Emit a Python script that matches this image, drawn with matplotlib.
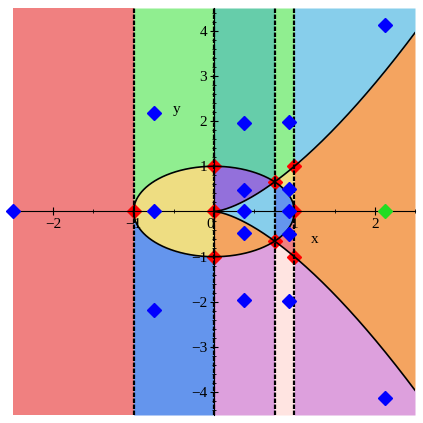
import matplotlib
matplotlib.use("Agg")
import matplotlib.pyplot as plt
import numpy as np
from matplotlib.ticker import MultipleLocator

plt.rcParams['font.family'] = ['Liberation Serif', 'DejaVu Serif']

# cell walls in x (the curve x^2+y^2=1 and y^2=x^3 meet at x~0.7549)
x_walls = [-2.5, -1.0, 0.0, 0.7549, 1.0, 2.5]

# colours of the cells in each strip, bottom to top
strip_colors = [
    ['#F08080'],
    ['#6495ED', '#EEDD82', '#90EE90'],
    ['#DDA0DD', '#F4A460', '#87CEEB', '#9370DB', '#66CDAA'],
    ['#FFE4E1', '#F08080', '#6495ED', '#EEDD82', '#90EE90'],
    ['#DDA0DD', '#F4A460', '#87CEEB'],
]
# which curves split each strip, bottom to top
strip_bounds = [
    [],
    ['-circ', '+circ'],
    ['-circ', '-cusp', '+cusp', '+circ'],
    ['-cusp', '-circ', '+circ', '+cusp'],
    ['-cusp', '+cusp'],
]

# section points (red)
red_x = [-1.0, 0.0, 0.0, 0.0, 0.7549, 0.7549, 1.0, 1.0, 1.0]
red_y = [0.0, 1.0, 0.0, -1.0, 0.656, -0.656, 1.0, 0.0, -1.0]

# sample points (blue)
blue_x = [-2.5, -0.75, -0.75, -0.75,
          0.377, 0.377, 0.377, 0.377, 0.377,
          0.937, 0.937, 0.937, 0.937, 0.937,
          2.13, 2.13]
blue_y = [0.0, 2.17, 0.0, -2.17,
          1.95, 0.48, 0.0, -0.48, -1.95,
          1.97, 0.5, 0.0, -0.5, -1.97,
          4.12, -4.12]
green_x = [2.13]
green_y = [0.0]


def curve(name, x):
    sign = -1.0 if name[0] == '-' else 1.0
    if name[1:] == 'circ':
        return sign * np.sqrt(np.clip(1 - x**2, 0, None))
    return sign * np.sqrt(np.clip(x, 0, None)**3)


fig = plt.figure(figsize=(4.23, 4.23), dpi=100)
ax = fig.add_axes([13/423, 8/423, 402/423, 407/423])
ymin, ymax = -4.5, 4.5

for i in range(len(strip_colors)):
    xs = np.linspace(x_walls[i], x_walls[i+1], 200)
    levels = [np.full_like(xs, ymin)] + [curve(b, xs) for b in strip_bounds[i]] + [np.full_like(xs, ymax)]
    for j, c in enumerate(strip_colors[i]):
        ax.fill_between(xs, levels[j], levels[j+1], color=c, lw=0, zorder=1)

ax.plot(red_x, red_y, 'D', color='red', ms=7, mec='red', zorder=2)

# the two curves
t = np.linspace(-1, 1, 400)
ax.plot(t, np.sqrt(1 - t**2), color='black', lw=1.2, zorder=3)
ax.plot(t, -np.sqrt(1 - t**2), color='black', lw=1.2, zorder=3)
t2 = np.linspace(0, 2.5, 400)
ax.plot(t2, t2**1.5, color='black', lw=1.2, zorder=3)
ax.plot(t2, -t2**1.5, color='black', lw=1.2, zorder=3)

for xw in x_walls[1:-1]:
    ax.axvline(xw, color='black', lw=1.6, ls=(0, (2.0, 0.7)), zorder=3)

ax.plot(blue_x, blue_y, 'D', color='blue', ms=7, zorder=5, clip_on=False)
ax.plot(green_x, green_y, 'D', color='#22DD22', ms=7, zorder=5)

ax.set_xlim(-2.5, 2.5)
ax.set_ylim(ymin, ymax)

for s in ['top', 'right']:
    ax.spines[s].set_visible(False)
ax.spines['left'].set_position('zero')
ax.spines['bottom'].set_position('zero')
ax.spines['left'].set_zorder(4)
ax.spines['bottom'].set_zorder(4)
ax.spines['left'].set_linewidth(0.8)
ax.spines['bottom'].set_linewidth(0.8)

ax.xaxis.set_major_locator(MultipleLocator(1))
ax.xaxis.set_minor_locator(MultipleLocator(0.5))
ax.yaxis.set_major_locator(MultipleLocator(1))
ax.yaxis.set_minor_locator(MultipleLocator(0.2))
ax.tick_params(which='major', direction='inout', length=6, width=0.8, labelsize=11, pad=2)
ax.tick_params(which='minor', direction='inout', length=3, width=0.6)
ax.set_xticks([-2, -1, 0, 1, 2])
ax.set_xticklabels(['\u22122', '\u22121', '0', '1', '2'])
ax.set_yticks([-4, -3, -2, -1, 1, 2, 3, 4])
ax.set_yticklabels(['\u22124', '\u22123', '\u22122', '\u22121', '1', '2', '3', '4'])
for lab in ax.get_xticklabels():
    if lab.get_text() == '0':
        lab.set_ha('right')

ax.text(1.25, -0.62, 'x', fontsize=11, ha='center', va='center', zorder=6)
ax.text(-0.47, 2.25, 'y', fontsize=11, ha='center', va='center', zorder=6)

fig.savefig('out.png', dpi=100)
